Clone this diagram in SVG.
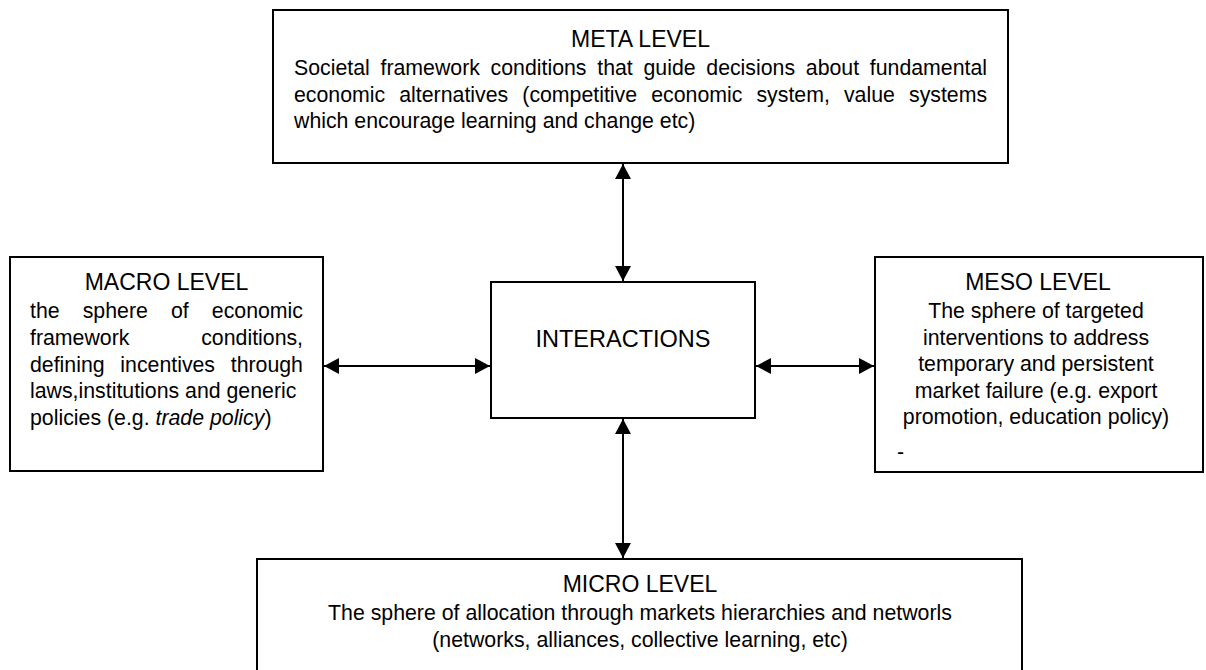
<svg xmlns="http://www.w3.org/2000/svg" width="1206" height="670" viewBox="0 0 1206 670">
  <defs>
    <style>
      .box { fill: #fff; stroke: #000; stroke-width: 2; }
      .t { font-family: "Liberation Sans", Arial, sans-serif; fill: #000; }
      .h { font-size: 23px; text-anchor: middle; }
      .b { font-size: 21.3px; }
      .mid { text-anchor: middle; }
      .link { stroke: #000; stroke-width: 2; fill: none; marker-start: url(#head); marker-end: url(#head); }
    </style>
    <marker id="head" viewBox="0 0 15 16" refX="15" refY="8" markerWidth="15" markerHeight="16" markerUnits="userSpaceOnUse" orient="auto-start-reverse">
      <path d="M0,0 L15,8 L0,16 Z" fill="#000"/>
    </marker>
  </defs>

  <rect width="1206" height="670" fill="#fff"/>

  <!-- meta level -->
  <g id="meta">
    <rect class="box" x="273" y="10" width="735" height="153"/>
    <text class="t h" x="640.5" y="47">META LEVEL</text>
    <text class="t b" x="294" y="75" word-spacing="4.8">Societal framework conditions that guide decisions about fundamental</text>
    <text class="t b" x="294" y="102" word-spacing="8.2">economic alternatives (competitive economic system, value systems</text>
    <text class="t b" x="294" y="128">which encourage learning and change etc)</text>
  </g>

  <!-- macro level -->
  <g id="macro">
    <rect class="box" x="10" y="257" width="313" height="214"/>
    <text class="t h" x="166.5" y="290">MACRO LEVEL</text>
    <text class="t b" x="30" y="318" word-spacing="17.2">the sphere of economic</text>
    <text class="t b" x="30" y="345" word-spacing="65.9">framework conditions,</text>
    <text class="t b" x="30" y="372" word-spacing="9.8">defining incentives through</text>
    <text class="t b" x="30" y="398">laws,institutions and generic</text>
    <text class="t b" x="30" y="425">policies (e.g. <tspan font-style="italic">trade policy</tspan>)</text>
  </g>

  <!-- interactions -->
  <g id="interactions">
    <rect class="box" x="491" y="282" width="264" height="136"/>
    <text class="t mid" x="623" y="347" font-size="23.5">INTERACTIONS</text>
  </g>

  <!-- meso level -->
  <g id="meso">
    <rect class="box" x="875" y="257" width="328" height="215"/>
    <text class="t h" x="1038" y="290">MESO LEVEL</text>
    <text class="t b mid" x="1036" y="318">The sphere of targeted</text>
    <text class="t b mid" x="1036" y="345">interventions to address</text>
    <text class="t b mid" x="1036" y="371">temporary and persistent</text>
    <text class="t b mid" x="1036" y="398">market failure (e.g. export</text>
    <text class="t b mid" x="1036" y="424">promotion, education policy)</text>
    <text class="t b" x="897" y="459">-</text>
  </g>

  <!-- micro level -->
  <g id="micro">
    <rect class="box" x="257" y="559" width="765" height="130"/>
    <text class="t h" x="640" y="592">MICRO LEVEL</text>
    <text class="t b mid" x="640" y="620">The sphere of allocation through markets hierarchies and networls</text>
    <text class="t b mid" x="640" y="647">(networks, alliances, collective learning, etc)</text>
  </g>

  <!-- two-way connectors to the central box -->
  <g id="connectors">
    <path class="link" d="M623,164 L623,281"/>
    <path class="link" d="M623,419 L623,558"/>
    <path class="link" d="M324,366 L490,366"/>
    <path class="link" d="M756,366 L874,366"/>
  </g>
</svg>
